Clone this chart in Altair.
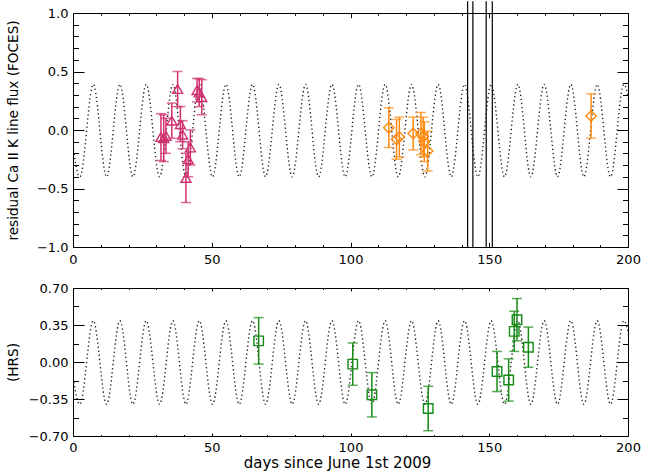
import altair as alt
import pandas as pd

# ---------------- values ----------------
# FOCES, magenta triangles
tri_day = [31.7, 32.7, 33.5, 35.6, 37.7, 38.7, 39.5, 40.7, 41.5, 42.3, 44.7, 45.5, 46.4]
tri_val = [-0.06, -0.07, -0.05, 0.08, 0.35, 0.05, -0.04, -0.41, -0.25, -0.15, 0.34, 0.32, 0.28]
tri_err = [0.20, 0.20, 0.15, 0.15, 0.15, 0.15, 0.12, 0.21, 0.15, 0.15, 0.10, 0.12, 0.15]

# FOCES, orange diamonds
dia_day = [113.8, 116.6, 117.6, 122.6, 125.4, 126.2, 126.6, 127.8, 186.7]
dia_val = [0.02, -0.08, -0.06, -0.03, -0.03, -0.06, -0.10, -0.18, 0.12]
dia_err = [0.17, 0.17, 0.17, 0.14, 0.18, 0.17, 0.17, 0.17, 0.19]

# HRS, green squares
sq_day = [66.9, 100.8, 107.7, 128.0, 152.8, 157.0, 159.0, 160.0, 164.1]
sq_val = [0.20, -0.02, -0.31, -0.44, -0.09, -0.17, 0.29, 0.40, 0.14]
sq_err = [0.22, 0.20, 0.21, 0.21, 0.19, 0.20, 0.19, 0.20, 0.19]

# vertical lines in the FOCES panel (they run past the top of the frame)
gap_day = [142.2, 144.1, 148.9, 151.1]
gap_lo = [-1.0, -1.0, -1.0, -1.0]
gap_hi = [1.10, 1.10, 1.10, 1.10]

# dotted model curve: its successive maxima / minima
wave_day = [-2.3, 2.5, 7.3, 12.1, 16.9, 21.6, 26.4, 31.2, 36.0, 40.7, 45.5, 50.3,
            55.1, 59.9, 64.7, 69.4, 74.2, 79.0, 83.8, 88.5, 93.3, 98.1, 102.9,
            107.7, 112.5, 117.2, 122.0, 126.8, 131.6, 136.3, 141.1, 145.9, 150.7,
            155.5, 160.3, 165.0, 169.8, 174.6, 179.4, 184.1, 188.9, 193.7, 198.5, 203.3]
wave_val = [0.39, -0.40, 0.39, -0.40, 0.39, -0.40, 0.39, -0.40, 0.39, -0.40, 0.39, -0.40,
            0.39, -0.40, 0.39, -0.40, 0.39, -0.40, 0.39, -0.40, 0.39, -0.40, 0.39,
            -0.40, 0.39, -0.40, 0.39, -0.40, 0.39, -0.40, 0.39, -0.40, 0.39,
            -0.40, 0.39, -0.40, 0.39, -0.40, 0.39, -0.40, 0.39, -0.40, 0.39, -0.40]

# axis ticks
x_major = [0, 50, 100, 150, 200]
x_minor = [10, 20, 30, 40, 60, 70, 80, 90, 110, 120, 130, 140, 160, 170, 180, 190]
top_y_major = [-1.0, -0.5, 0.0, 0.5, 1.0]
top_y_minor = [-0.9, -0.8, -0.7, -0.6, -0.4, -0.3, -0.2, -0.1,
               0.1, 0.2, 0.3, 0.4, 0.6, 0.7, 0.8, 0.9]
bot_y_major = [-0.70, -0.35, 0.0, 0.35, 0.70]
bot_y_minor = [-0.525, -0.175, 0.175, 0.525]

FONT = "DejaVu Sans"
W = 555
H1 = 234
H2 = 148
PINK = "#d0306e"
ORANGE = "#ff8a10"
GREEN = "#158a15"

xs = alt.Scale(domain=[0, 200], nice=False, zero=False)


def axis_layers(ydom, H, ymaj, ymin, yfmt, ytitle, xtitle):
    ys = alt.Scale(domain=ydom, nice=False, zero=False)
    d = pd.DataFrame({"x": [0, 200], "y": ydom})
    lx = 0.02 * H
    ly = 11
    common = dict(domain=False, grid=False, labelOverlap=False, tickColor="black", tickWidth=1)

    def xl(axis):
        return alt.Chart(d).mark_point(opacity=0).encode(
            x=alt.X("x:Q", scale=xs, axis=axis), y=alt.Y("y:Q", scale=ys, axis=None))

    def yl(axis):
        return alt.Chart(d).mark_point(opacity=0).encode(
            x=alt.X("x:Q", scale=xs, axis=None), y=alt.Y("y:Q", scale=ys, axis=axis))

    xmain = dict(orient="bottom", values=x_major, offset=-lx, tickSize=lx, labels=True,
                 labelFlush=False, labelPadding=6, labelFontSize=13, format="d",
                 labelFont=FONT, labelColor="black", **common)
    if xtitle:
        xmain.update(title=xtitle, titleFont=FONT, titleFontSize=15, titleFontWeight="normal",
                     titleColor="black", titlePadding=1, titleX=264, titleAlign="center")
    else:
        xmain.update(title=None)
    layers = [
        xl(alt.Axis(**xmain)),
        xl(alt.Axis(orient="bottom", values=x_minor, offset=-lx / 2, tickSize=lx / 2,
                    labels=False, title=None, **common)),
        xl(alt.Axis(orient="top", values=x_major, offset=-lx, tickSize=lx,
                    labels=False, title=None, **common)),
        xl(alt.Axis(orient="top", values=x_minor, offset=-lx / 2, tickSize=lx / 2,
                    labels=False, title=None, **common)),
        yl(alt.Axis(orient="left", values=ymaj, offset=-ly, tickSize=ly, labels=True,
                    labelPadding=5, labelFontSize=13, labelFont=FONT, labelColor="black",
                    format=yfmt, title=ytitle, titleFont=FONT, titleFontSize=13.6,
                    titleFontWeight="normal", titleColor="black", titleAngle=270,
                    titleX=-70.5, titleY=H / 2, titleAlign="center", titleBaseline="middle",
                    **common)),
        yl(alt.Axis(orient="left", values=ymin, offset=-ly / 2, tickSize=ly / 2,
                    labels=False, title=None, **common)),
        yl(alt.Axis(orient="right", values=ymaj, offset=-ly, tickSize=ly,
                    labels=False, title=None, **common)),
        yl(alt.Axis(orient="right", values=ymin, offset=-ly / 2, tickSize=ly / 2,
                    labels=False, title=None, **common)),
    ]
    return layers, ys


def wave_layer(ys):
    df = pd.DataFrame({"day": wave_day, "val": wave_val})
    return alt.Chart(df).mark_line(
        interpolate="monotone", color="#222222", strokeWidth=1.4,
        strokeDash=[1.3, 2.8], clip=True
    ).encode(x=alt.X("day:Q", scale=xs, axis=None), y=alt.Y("val:Q", scale=ys, axis=None))


def point_layers(day, val, err, ys, color, shape, size):
    df = pd.DataFrame({"day": day, "val": val, "err": err})
    base = alt.Chart(df).transform_calculate(
        lo="datum.val - datum.err", hi="datum.val + datum.err")
    X = alt.X("day:Q", scale=xs, axis=None)
    bars = base.mark_rule(color=color, strokeWidth=1.5).encode(
        x=X, y=alt.Y("lo:Q", scale=ys, axis=None), y2="hi:Q")
    cap_lo = base.mark_tick(color=color, orient="horizontal", size=10, thickness=1.5).encode(
        x=X, y=alt.Y("lo:Q", scale=ys, axis=None))
    cap_hi = base.mark_tick(color=color, orient="horizontal", size=10, thickness=1.5).encode(
        x=X, y=alt.Y("hi:Q", scale=ys, axis=None))
    pts = base.mark_point(shape=shape, size=size, filled=False, color=color,
                          strokeWidth=1.4, opacity=1).encode(
        x=X, y=alt.Y("val:Q", scale=ys, axis=None))
    return [bars, cap_lo, cap_hi, pts]


# ---------------- top panel (FOCES) ----------------
ax_top, ys_top = axis_layers([-1.0, 1.0], H1, top_y_major, top_y_minor, ".1f",
                             "residual Ca II K line flux (FOCES)", None)
gaps = alt.Chart(pd.DataFrame({"day": gap_day, "lo": gap_lo, "hi": gap_hi})).mark_rule(
    color="black", strokeWidth=1.2).encode(
    x=alt.X("day:Q", scale=xs, axis=None),
    y=alt.Y("lo:Q", scale=ys_top, axis=None), y2="hi:Q")
top = alt.layer(
    *ax_top,
    wave_layer(ys_top),
    gaps,
    *point_layers(tri_day, tri_val, tri_err, ys_top, PINK, "triangle-up", 100),
    *point_layers(dia_day, dia_val, dia_err, ys_top, ORANGE, "diamond", 110),
).resolve_axis(x="independent", y="independent").properties(width=W, height=H1)

# ---------------- bottom panel (HRS) ----------------
ax_bot, ys_bot = axis_layers([-0.70, 0.70], H2, bot_y_major, bot_y_minor, ".2f",
                             "(HRS)", "days since June 1st 2009")
bottom = alt.layer(
    *ax_bot,
    wave_layer(ys_bot),
    *point_layers(sq_day, sq_val, sq_err, ys_bot, GREEN, "square", 90),
).resolve_axis(x="independent", y="independent").properties(width=W, height=H2)

chart = alt.vconcat(top, bottom, spacing=14).properties(
    padding={"left": 5, "top": 0, "right": 5, "bottom": 0},
    background="white",
).configure_view(stroke="black", strokeWidth=1)

chart.save("out.html", embed_options={"renderer": "svg", "actions": False})
